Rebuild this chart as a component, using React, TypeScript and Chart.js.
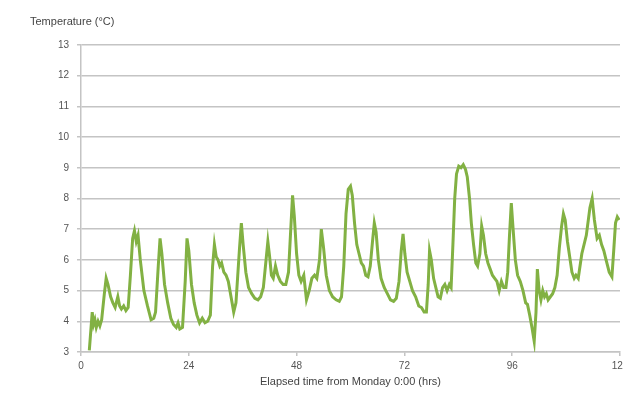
import React, { useEffect, useRef } from "react";
import { Chart, registerables } from "chart.js";

Chart.register(...registerables);

const hours: number[] = [
  1.85, 2.5, 2.8, 3.1, 3.4, 3.8, 4.2, 4.6, 5.2, 5.6, 6.0, 6.6, 7.1, 7.6, 8.2, 8.6, 9.0, 9.5, 10.0, 10.5,
  11.0, 11.5, 11.9, 12.3, 12.7, 13.2, 14.0, 14.8, 15.6, 16.2, 16.6, 17.2, 17.6, 18.0, 18.6, 19.3, 20.0, 20.6,
  21.2, 21.6, 22.0, 22.6, 23.2, 23.6, 24.0, 24.6, 25.2, 25.8, 26.4, 27.0, 27.6, 28.2, 28.8, 29.3, 29.7, 30.1,
  30.5, 30.9, 31.3, 31.8, 32.3, 32.8, 33.4, 34.0, 34.5, 35.3, 35.7, 36.1, 36.7, 37.3, 38.0, 38.7, 39.4, 40.0,
  40.6, 41.2, 41.6, 42.0, 42.4, 42.8, 43.3, 43.8, 44.4, 45.0, 45.6, 46.2, 46.7, 47.1, 47.5, 48.0, 48.5, 49.0,
  49.6, 50.2, 50.8, 51.4, 52.0, 52.5, 53.1, 53.5, 54.0, 54.6, 55.3, 56.0, 56.8, 57.5, 58.0, 58.5, 59.0, 59.5,
  60.0, 60.4, 60.9, 61.4, 61.9, 62.4, 62.9, 63.4, 63.9, 64.4, 64.9, 65.3, 65.7, 66.2, 66.8, 67.5, 68.2, 68.9,
  69.6, 70.2, 70.8, 71.3, 71.7, 72.1, 72.6, 73.2, 73.8, 74.5, 75.2, 75.8, 76.4, 76.9, 77.3, 77.6, 78.0, 78.5,
  79.0, 79.5, 80.0, 80.5, 81.0, 81.5, 82.0, 82.4, 82.8, 83.2, 83.6, 84.1, 84.6, 85.1, 85.6, 86.0, 86.5, 86.9,
  87.4, 87.9, 88.3, 88.8, 89.2, 89.6, 90.1, 90.6, 91.1, 91.6, 92.1, 92.6, 93.1, 93.6, 94.1, 94.6, 95.0, 95.4,
  95.8, 96.2, 96.7, 97.2, 97.8, 98.4, 99.0, 99.4, 99.9, 100.4, 100.9, 101.3, 101.6, 102.0, 102.4, 102.8, 103.2,
  103.6, 104.0, 104.5, 105.0, 105.5, 106.0, 106.5, 107.0, 107.4, 107.8, 108.3, 108.8, 109.3, 109.8, 110.2,
  110.7, 111.5, 112.5, 113.3, 113.8, 114.3, 114.9, 115.4, 115.9, 116.4, 116.9, 117.6, 118.2, 118.6, 119.0,
  119.4, 119.8,
];

const temperatures: number[] = [
  3.05, 4.3, 3.9, 4.05, 3.8, 4.0, 3.85, 4.05, 4.9, 5.4, 5.2, 4.8, 4.6, 4.45, 4.8, 4.5, 4.4, 4.5, 4.35, 4.45,
  5.5, 6.7, 6.95, 6.6, 6.8, 6.0, 5.0, 4.5, 4.05, 4.1, 4.3, 5.8, 6.7, 6.2, 5.2, 4.6, 4.1, 3.9,
  3.8, 3.95, 3.75, 3.8, 5.3, 6.7, 6.3, 5.2, 4.6, 4.2, 3.95, 4.1, 3.95, 4.0, 4.2, 5.8, 6.5, 6.1,
  6.0, 5.8, 5.9, 5.6, 5.5, 5.3, 4.8, 4.3, 4.6, 6.4, 7.2, 6.5, 5.6, 5.1, 4.9, 4.75, 4.7, 4.8,
  5.1, 6.0, 6.6, 6.1, 5.5, 5.4, 5.8, 5.5, 5.3, 5.2, 5.2, 5.6, 7.0, 8.1, 7.4, 6.2, 5.5, 5.3,
  5.5, 4.7, 5.0, 5.4, 5.5, 5.4, 6.0, 7.0, 6.4, 5.5, 5.0, 4.8, 4.7, 4.65, 4.8, 5.8, 7.5, 8.3,
  8.4, 8.1, 7.2, 6.5, 6.2, 5.9, 5.8, 5.5, 5.45, 5.8, 6.6, 7.2, 6.9, 6.0, 5.4, 5.1, 4.9, 4.7,
  4.65, 4.75, 5.3, 6.3, 6.85, 6.2, 5.6, 5.3, 5.0, 4.8, 4.5, 4.45, 4.3, 4.3, 5.2, 6.3, 6.0, 5.4,
  5.1, 4.8, 4.75, 5.1, 5.2, 5.0, 5.2, 5.1, 6.5, 8.0, 8.8, 9.05, 9.0, 9.1, 8.95, 8.7, 8.0, 7.2,
  6.5, 5.9, 5.8, 6.2, 7.1, 6.8, 6.2, 5.9, 5.7, 5.5, 5.4, 5.3, 5.0, 5.3, 5.1, 5.1, 5.6, 6.8,
  7.85, 7.0, 6.0, 5.5, 5.3, 5.0, 4.6, 4.55, 4.2, 3.8, 3.35, 4.3, 5.7, 5.0, 4.7, 5.0, 4.8,
  4.9, 4.7, 4.8, 4.9, 5.1, 5.5, 6.4, 7.1, 7.5, 7.3, 6.6, 6.1, 5.6, 5.4, 5.5,
  5.4, 6.2, 6.8, 7.7, 8.0, 7.3, 6.7, 6.8, 6.5, 6.3, 6.0, 5.6, 5.45, 6.3, 7.2,
  7.4, 7.3,
];

const xTicks: number[] = [0, 24, 48, 72, 96, 120];
const yMin = 3;
const yMax = 13;
const yTitle = "Temperature (°C)";
const xTitle = "Elapsed time from Monday 0:00 (hrs)";

const FONT = "'Liberation Sans', Arial, sans-serif";

const topTitlePlugin = {
  id: "topTitle",
  afterDraw(chart: any) {
    const ctx = chart.ctx;
    ctx.save();
    ctx.font = `11px ${FONT}`;
    ctx.fillStyle = "#444";
    ctx.textAlign = "left";
    ctx.textBaseline = "middle";
    ctx.fillText(yTitle, 30, 22);
    ctx.restore();
  },
};

export default function App() {
  const ref = useRef<HTMLCanvasElement | null>(null);

  useEffect(() => {
    if (!ref.current) return;
    const points = hours.map((h, i) => ({ x: h, y: temperatures[i] }));
    const chart = new Chart(ref.current, {
      type: "line",
      data: {
        datasets: [
          {
            data: points,
            borderColor: "#82b143",
            borderWidth: 3,
            pointRadius: 0,
            tension: 0,
            fill: false,
          },
        ],
      },
      plugins: [topTitlePlugin],
      options: {
        animation: false,
        responsive: false,
        devicePixelRatio: 1,
        layout: { padding: { top: 45, left: 0, right: 20, bottom: 0 } },
        plugins: { legend: { display: false }, tooltip: { enabled: false } },
        scales: {
          x: {
            type: "linear",
            min: 0,
            max: 120,
            afterBuildTicks: (axis: any) => {
              axis.ticks = xTicks.map((v) => ({ value: v }));
            },
            afterFit: (axis: any) => {
              axis.height = 44;
            },
            ticks: {
              autoSkip: false,
              maxRotation: 0,
              padding: 4,
              color: "#555",
              font: { family: FONT, size: 10 },
            },
            grid: {
              drawOnChartArea: false,
              drawTicks: true,
              tickLength: 4,
              color: "#c4c4c4",
              lineWidth: 1.5,
            },
            border: { display: true, color: "#c4c4c4", width: 1.5 },
            title: {
              display: true,
              text: xTitle,
              color: "#444",
              font: { family: FONT, size: 11 },
              padding: { top: 1, bottom: 7 },
            },
          },
          y: {
            min: yMin,
            max: yMax,
            afterFit: (axis: any) => {
              axis.width = 81;
            },
            ticks: {
              stepSize: 1,
              padding: 8,
              color: "#555",
              font: { family: FONT, size: 10 },
            },
            grid: {
              color: "#c4c4c4",
              lineWidth: 1.5,
              tickLength: 4,
            },
            border: { display: true, color: "#c4c4c4", width: 1.5 },
          },
        },
      },
    } as any);
    return () => chart.destroy();
  }, []);

  return (
    <div
      style={{
        position: "fixed",
        left: 0,
        top: 0,
        width: 623,
        height: 396,
        overflow: "hidden",
        background: "#fff",
      }}
    >
      <canvas ref={ref} width={640} height={396} style={{ display: "block" }} />
    </div>
  );
}
